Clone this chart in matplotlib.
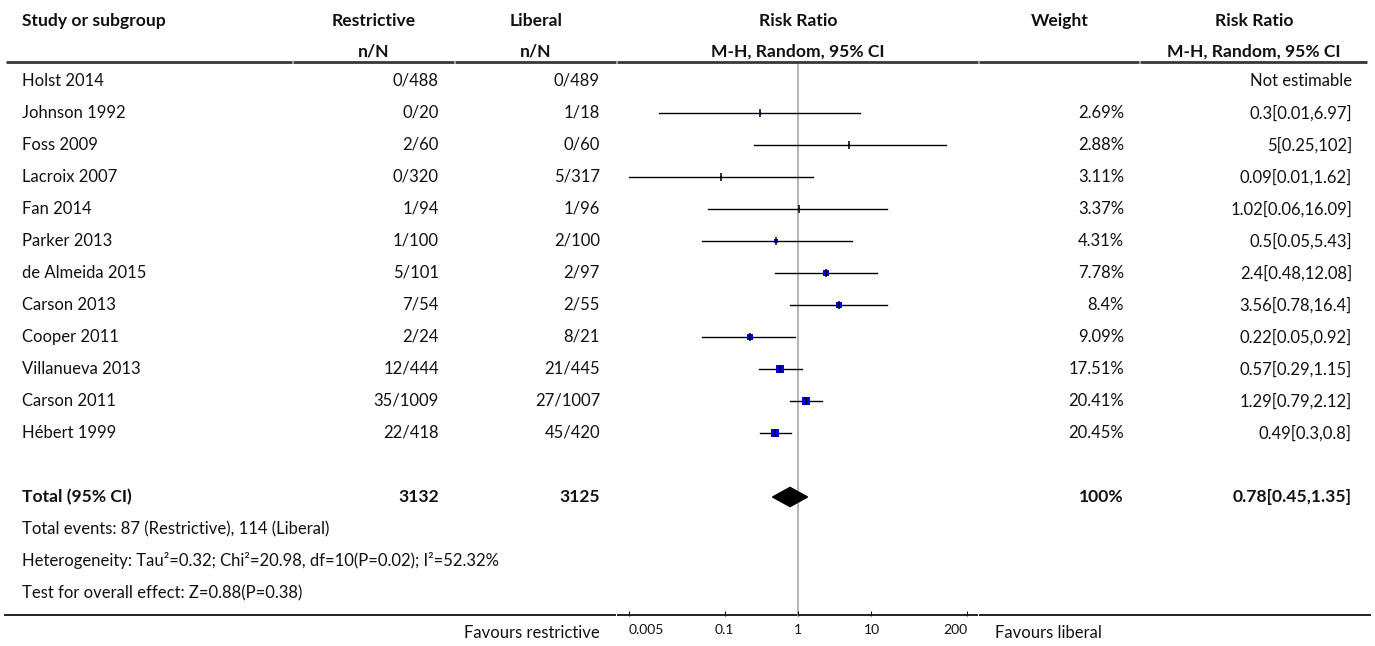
import numpy as np
import matplotlib.pyplot as plt

plt.rcParams['font.family'] = ['Lato', 'DejaVu Sans']

studies = ["Holst 2014", "Johnson 1992", "Foss 2009", "Lacroix 2007", "Fan 2014",
           "Parker 2013", "de Almeida 2015", "Carson 2013", "Cooper 2011",
           "Villanueva 2013", "Carson 2011", "Hébert 1999"]
restrictive_n = [0, 0, 2, 0, 1, 1, 5, 7, 2, 12, 35, 22]
restrictive_N = [488, 20, 60, 320, 94, 100, 101, 54, 24, 444, 1009, 418]
liberal_n = [0, 1, 0, 5, 1, 2, 2, 2, 8, 21, 27, 45]
liberal_N = [489, 18, 60, 317, 96, 100, 97, 55, 21, 445, 1007, 420]
weights = [np.nan, 2.69, 2.88, 3.11, 3.37, 4.31, 7.78, 8.4, 9.09, 17.51, 20.41, 20.45]
rr = [np.nan, 0.3, 5, 0.09, 1.02, 0.5, 2.4, 3.56, 0.22, 0.57, 1.29, 0.49]
rr_low = [np.nan, 0.013, 0.25, 0.005, 0.06, 0.05, 0.48, 0.78, 0.05, 0.29, 0.79, 0.3]
rr_high = [np.nan, 6.97, 102, 1.62, 16.09, 5.43, 12.08, 16.4, 0.92, 1.15, 2.12, 0.8]
rr_text = ["Not estimable", "0.3[0.01,6.97]", "5[0.25,102]", "0.09[0.01,1.62]",
           "1.02[0.06,16.09]", "0.5[0.05,5.43]", "2.4[0.48,12.08]", "3.56[0.78,16.4]",
           "0.22[0.05,0.92]", "0.57[0.29,1.15]", "1.29[0.79,2.12]", "0.49[0.3,0.8]"]

total_restrictive = 3132
total_liberal = 3125
total_rr, total_low, total_high = 0.78, 0.45, 1.35
total_text = "0.78[0.45,1.35]"

footer = ["Total events: 87 (Restrictive), 114 (Liberal)",
          "Heterogeneity: Tau²=0.32; Chi²=20.98, df=10(P=0.02); I²=52.32%",
          "Test for overall effect: Z=0.88(P=0.38)"]

ticks = [0.005, 0.1, 1, 10, 200]
tick_labels = ["0.005", "0.1", "1", "10", "200"]

W, H = 1375, 646
TXT = '#111111'
FS = 12
FSB = 12.6


def row_of(py):
    return (py - 81) / 32


fig = plt.figure(figsize=(W / 100, H / 100), dpi=100)

# text / rules layer: x in pixels, y in rows
ax = fig.add_axes([0, 0, 1, 1])
ax.set_xlim(0, W)
ax.set_ylim(row_of(H), row_of(0))
ax.axis('off')

# header
hy1, hy2 = row_of(21), row_of(52)
ax.text(22, hy1, "Study or subgroup", ha='left', va='center', fontsize=FSB, fontweight='bold', color=TXT)
for cx, t1, t2 in [(374, "Restrictive", "n/N"), (536, "Liberal", "n/N"),
                   (798, "Risk Ratio", "M-H, Random, 95% CI"), (1060, "Weight", ""),
                   (1254, "Risk Ratio", "M-H, Random, 95% CI")]:
    ax.text(cx, hy1, t1, ha='center', va='center', fontsize=FSB, fontweight='bold', color=TXT)
    if t2:
        ax.text(cx, hy2, t2, ha='center', va='center', fontsize=FSB, fontweight='bold', color=TXT)

# rules
for x0, x1 in [(6, 292.5), (293.5, 454.5), (455.5, 616.5), (617.5, 978.5), (979.5, 1139.5), (1140.5, 1367)]:
    ax.plot([x0, x1], [row_of(62), row_of(62)], color='#383838', lw=2.0, solid_capstyle='butt')
for x0, x1 in [(4, 616.5), (617.5, 978.5), (979.5, 1371)]:
    ax.plot([x0, x1], [row_of(615.5), row_of(615.5)], color='#111111', lw=1.3, solid_capstyle='butt')

# study rows
for i, name in enumerate(studies):
    ax.text(22, i, name, ha='left', va='center', fontsize=FS, color=TXT)
    ax.text(439, i, f"{restrictive_n[i]}/{restrictive_N[i]}", ha='right', va='center', fontsize=FS, color=TXT)
    ax.text(600, i, f"{liberal_n[i]}/{liberal_N[i]}", ha='right', va='center', fontsize=FS, color=TXT)
    if not np.isnan(weights[i]):
        ax.text(1124, i, f"{weights[i]:g}%", ha='right', va='center', fontsize=FS, color=TXT)
    ax.text(1352, i, rr_text[i], ha='right', va='center', fontsize=FS, color=TXT)

ty = len(studies) + 1
ax.text(22, ty, "Total (95% CI)", ha='left', va='center', fontsize=FSB, fontweight='bold', color=TXT)
ax.text(439, ty, f"{total_restrictive}", ha='right', va='center', fontsize=FSB, fontweight='bold', color=TXT)
ax.text(600, ty, f"{total_liberal}", ha='right', va='center', fontsize=FSB, fontweight='bold', color=TXT)
ax.text(1124, ty, "100%", ha='right', va='center', fontsize=FSB, fontweight='bold', color=TXT)
ax.text(1352, ty, total_text, ha='right', va='center', fontsize=FSB, fontweight='bold', color=TXT)
for k, line in enumerate(footer):
    ax.text(22, ty + 1 + k, line, ha='left', va='center', fontsize=FS, color=TXT)

ax.text(600, row_of(633), "Favours restrictive", ha='right', va='center', fontsize=FS, color=TXT)
ax.text(995, row_of(633), "Favours liberal", ha='left', va='center', fontsize=FS, color=TXT)

# forest panel
left_px, right_px, top_px, bot_px = 629, 967, 64, 615.5
axf = fig.add_axes([left_px / W, (H - bot_px) / H, (right_px - left_px) / W, (bot_px - top_px) / H])
axf.set_xscale('log')
axf.set_xlim(ticks[0], ticks[-1])
axf.set_ylim(row_of(bot_px), row_of(top_px))
axf.patch.set_visible(False)
for s in axf.spines.values():
    s.set_visible(False)
axf.set_yticks([])
axf.set_xticks(ticks)
axf.set_xticklabels(tick_labels)
axf.xaxis.set_minor_locator(plt.NullLocator())
axf.tick_params(axis='x', direction='in', length=3.8, width=0.8, pad=6, labelsize=10, colors=TXT)
lbls = axf.get_xticklabels()
lbls[0].set_ha('left')
lbls[-1].set_ha('right')

axf.axvline(1, color='#a8a8a8', lw=1.2, zorder=1)

for i in range(len(studies)):
    if np.isnan(rr[i]):
        continue
    axf.plot([rr_low[i], rr_high[i]], [i, i], color='black', lw=1.0, zorder=2, clip_on=False)
    side = min(0.72 * weights[i], 7.3)
    axf.plot(rr[i], i, marker='s', ms=side * 0.72, color='#0000e6', mec='#0000e6', mew=0, zorder=3)
    axf.plot(rr[i], i, marker='|', ms=6, mew=1.1, color='black', zorder=4)

dh = 0.3
axf.fill([total_low, total_rr, total_high, total_rr], [ty, ty - dh, ty, ty + dh], color='black', zorder=3)

fig.savefig('out.png', dpi=100)
